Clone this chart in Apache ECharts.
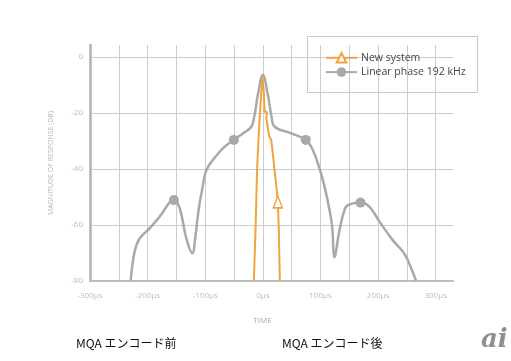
<!DOCTYPE html>
<html>
<head>
<meta charset="utf-8">
<script src="https://cdn.jsdelivr.net/npm/echarts@6/dist/echarts.min.js"></script>
<style>
html,body{margin:0;padding:0;background:#fff;}
#c{width:511px;height:361px;}
</style>
</head>
<body>
<div id="c"></div>
<script>
// ---- data (time in µs, magnitude in dB) ----
const seriesNames = ['New system', 'Linear phase 192 kHz'];

const newSystemX = [-15.6, -12.5, -10, -7, -4, -1, 1.5, 3, 7, 6, 8.5, 10.5, 12, 14.5, 17, 20.3, 23.5, 26, 27.7, 28.5, 29.5];
const newSystemY = [-80, -60, -40, -27, -17, -7, -12, -19.5, -19.5, -22, -25, -28, -27.5, -29.6, -34, -40.4, -46.5, -51.7, -61.8, -70, -80];
const newSystemMarkers = [26];

const linearX = [-229.5, -222.5, -213.8, -196.5, -179, -154.3, -144.4, -132.8, -122.4, -117, -113, -110, -105.5, -100, -94, -86.7, -69.4, -50.3, -34.7, -20, -14.4, -8.7, 0, 8.7, 14.6, 20.5, 46, 74.5, 86.7, 98.3, 107, 115.7, 120.3, 124.3, 133, 141.7, 147.4, 169.4, 185, 202.4, 225.4, 242.8, 251.4, 266];
const linearY = [-80, -69.5, -64.8, -61.2, -57, -51.1, -54, -64.8, -70.1, -64, -57, -52.5, -47.5, -41.5, -38.8, -36.8, -32.6, -29.6, -27.3, -24.9, -20.7, -13.6, -6.4, -13.6, -20.7, -24.9, -27, -29.6, -33.2, -39.8, -46.3, -54.6, -60.6, -71.5, -61.8, -54.6, -52.9, -52, -53.5, -58.8, -65.4, -69.5, -72.5, -80];
const linearMarkers = [-154.3, -50.3, 74.5, 169.4];

const xTickValues = [-300, -200, -100, 0, 100, 200, 300];
const yTickValues = [-80, -60, -40, -20, 0];

const captions = ['MQA エンコード前', 'MQA エンコード後'];

// ---- build ----
const ORANGE = '#f0a43c';
const GRAY = '#a9a9a9';

function build(xs, ys, markers) {
  return xs.map((x, i) => {
    const item = { value: [x, ys[i]] };
    if (markers.indexOf(x) < 0) item.symbol = 'none';
    return item;
  });
}

const chart = echarts.init(document.getElementById('c'), null, { renderer: 'canvas' });
const option = {
  animation: false,
  backgroundColor: '#fff',
  grid: { left: 90, right: 58, top: 45, bottom: 80, containLabel: false },
  xAxis: {
    type: 'value', min: -300, max: 330, interval: 50,
    name: 'TIME', nameLocation: 'middle', nameGap: 36,
    nameTextStyle: { color: '#aaaaaa', fontSize: 8, fontFamily: 'Open Sans', padding: [0, 18, 0, 0] },
    axisLine: { show: true, onZero: false, lineStyle: { color: '#bdbdbd', width: 2 } },
    axisTick: { show: false },
    axisLabel: {
      color: '#bdbdbd', fontSize: 8, fontFamily: 'Open Sans', margin: 11,
      showMaxLabel: false,
      formatter: v => (xTickValues.indexOf(v) >= 0 ? v + '\u00b5s' : '')
    },
    splitLine: { show: true, showMaxLine: false, lineStyle: { color: '#cccccc', width: 1 } }
  },
  yAxis: {
    type: 'value', min: -80, max: 4.3, interval: 20,
    name: 'MAGNITUDE OF RESPONSE (DB)', nameLocation: 'middle', nameGap: 36,
    nameTextStyle: { color: '#b5b5b5', fontSize: 7, fontFamily: 'Open Sans' },
    axisLine: { show: true, onZero: false, lineStyle: { color: '#b3b3b3', width: 2.5 } },
    axisTick: { show: false },
    axisLabel: {
      color: '#bdbdbd', fontSize: 8, fontFamily: 'Open Sans', margin: 7,
      showMaxLabel: false,
      formatter: v => (yTickValues.indexOf(v) >= 0 ? String(v) : '')
    },
    splitLine: { show: true, showMaxLine: false, lineStyle: { color: '#cccccc', width: 1 } }
  },
  legend: {
    data: seriesNames,
    orient: 'vertical', left: 320, top: 47,
    itemWidth: 31, itemHeight: 12, itemGap: 3,
    textStyle: { color: '#444', fontSize: 10.5, fontFamily: 'Open Sans', padding: [0, 0, 0, -1] }
  },
  graphic: [
    { type: 'rect', z: -1, shape: { x: 307.5, y: 36.5, width: 170, height: 56 },
      style: { fill: '#fff', stroke: '#c8c8c8', lineWidth: 1 } },
    { type: 'text', left: 76, top: 337, style: { text: captions[0], fill: '#111', font: '12px "Noto Sans CJK JP"' } },
    { type: 'text', left: 282, top: 337, style: { text: captions[1], fill: '#111', font: '12px "Noto Sans CJK JP"' } },
    { type: 'text', left: 481, top: 327, style: { text: 'ai', fill: '#8f8f8f', font: 'italic bold 26px "DejaVu Serif"' } }
  ],
  series: [
    {
      name: seriesNames[0], type: 'line', smooth: false,
      symbol: 'triangle', symbolSize: [9, 12],
      color: ORANGE,
      lineStyle: { color: ORANGE, width: 2 },
      itemStyle: { color: '#fff', borderColor: ORANGE, borderWidth: 1.5 },
      data: build(newSystemX, newSystemY, newSystemMarkers), z: 3
    },
    {
      name: seriesNames[1], type: 'line', smooth: 0.4,
      symbol: 'circle', symbolSize: 10,
      color: GRAY,
      lineStyle: { color: GRAY, width: 2.5 },
      itemStyle: { color: GRAY },
      data: build(linearX, linearY, linearMarkers), z: 2
    }
  ]
};
chart.setOption(option);
</script>
</body>
</html>
